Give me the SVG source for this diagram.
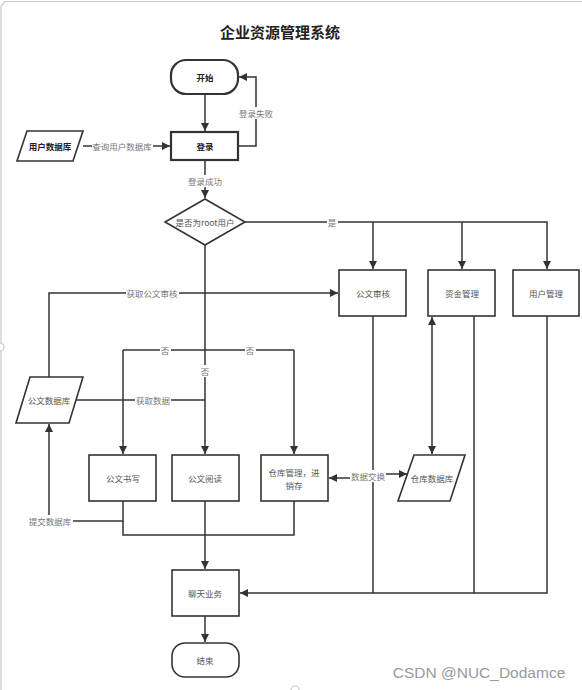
<svg xmlns="http://www.w3.org/2000/svg" width="582" height="690" viewBox="0 0 582 690">
<defs>
<marker id="arr" viewBox="0 0 10 10" refX="10" refY="5" markerWidth="8" markerHeight="8" markerUnits="userSpaceOnUse" orient="auto-start-reverse">
<path d="M0 0 L10 5 L0 10 Z" fill="#333"/>
</marker>
</defs>
<style>
.n{fill:#fff;stroke:#333;stroke-width:1.6}
.b{stroke-width:2.2}
.t{font-family:"Noto Sans CJK SC","Noto Sans",sans-serif;font-size:8.5px;fill:#555;text-anchor:middle;dominant-baseline:central}
.tb{font-weight:bold;fill:#222}
.c{fill:none;stroke:#333;stroke-width:1.5}
.lb{fill:#fff}
.l{font-family:"Noto Sans CJK SC","Noto Sans",sans-serif;font-size:8.5px;fill:#777;text-anchor:middle;dominant-baseline:central}
</style>
<rect width="582" height="690" fill="#fff"/>
<g id="frame" fill="none" stroke="#c8c8c8" stroke-width="1.2">
<path d="M1 690 V6 L5 1.5 H582"/>
<circle cx="0" cy="347" r="4" fill="#fff"/>
<circle cx="295" cy="690" r="4" fill="#fff"/>
</g>
<text x="280" y="31" font-family="&quot;Noto Sans CJK SC&quot;,sans-serif" font-size="15" font-weight="bold" fill="#222" text-anchor="middle" dominant-baseline="central">企业资源管理系统</text>

<g id="connectors">
<path class="c" d="M205 94 V131" marker-end="url(#arr)"/>
<path class="c" d="M238 146 H256 V77 H239" marker-end="url(#arr)"/>
<path class="c" d="M83 146 H170" marker-end="url(#arr)"/>
<path class="c" d="M205 160 V198" marker-end="url(#arr)"/>
<path class="c" d="M245 222 H547 V269" marker-end="url(#arr)"/>
<path class="c" d="M373 222 V269" marker-end="url(#arr)"/>
<path class="c" d="M462 222 V269" marker-end="url(#arr)"/>
<path class="c" d="M205 245 V454" marker-end="url(#arr)"/>
<path class="c" d="M123 350 H294"/>
<path class="c" d="M123 350 V454" marker-end="url(#arr)"/>
<path class="c" d="M294 350 V454" marker-end="url(#arr)"/>
<path class="c" d="M49 377 V293 H338" marker-end="url(#arr)"/>
<path class="c" d="M76 400 H205"/>
<path class="c" d="M123 501 V521 H49 V424" marker-end="url(#arr)"/>
<path class="c" d="M123 521 V535 H294 V501"/>
<path class="c" d="M205 501 V569" marker-end="url(#arr)"/>
<path class="c" d="M329 478 H360 V474 H407" stroke-width="1.8" marker-start="url(#arr)" marker-end="url(#arr)"/>
<path class="c" d="M432 317 V454" stroke-width="1.8" marker-start="url(#arr)" marker-end="url(#arr)"/>
<path class="c" d="M373 316 V593"/>
<path class="c" d="M474 316 V593"/>
<path class="c" d="M547 316 V593 H240" marker-end="url(#arr)"/>
<path class="c" d="M205 616 V642" marker-end="url(#arr)"/>
<rect class="lb" x="239" y="107" width="35" height="12"/>
<text class="l" x="256" y="113">登录失败</text>
<rect class="lb" x="92" y="140" width="61" height="12"/>
<text class="l" x="122" y="146">查询用户数据库</text>
<rect class="lb" x="187" y="175" width="36" height="12"/>
<text class="l" x="205" y="181">登录成功</text>
<rect class="lb" x="327" y="216" width="11" height="12"/>
<text class="l" x="332" y="222">是</text>
<rect class="lb" x="200" y="365" width="11" height="12"/>
<text class="l" x="205" y="371">否</text>
<rect class="lb" x="160" y="344" width="11" height="12"/>
<text class="l" x="165" y="350">否</text>
<rect class="lb" x="245" y="344" width="11" height="12"/>
<text class="l" x="250" y="350">否</text>
<rect class="lb" x="126" y="287" width="53" height="12"/>
<text class="l" x="152" y="293">获取公文审核</text>
<rect class="lb" x="135" y="394" width="36" height="12"/>
<text class="l" x="153" y="400">获取数据</text>
<rect class="lb" x="28" y="515" width="45" height="12"/>
<text class="l" x="50" y="521">提交数据库</text>
<rect class="lb" x="350" y="470" width="36" height="12"/>
<text class="l" x="368" y="476">数据交换</text>
</g>

<g id="start"><rect class="n b" x="171" y="60" width="67" height="34" rx="15"/><text class="t tb" x="205" y="77">开始</text></g>
<g id="login"><rect class="n b" x="171" y="132" width="67" height="28"/><text class="t tb" x="205" y="146">登录</text></g>
<g id="userdb"><polygon class="n" points="27,131 83,131 73,161 17,161"/><text class="t tb" x="50" y="146">用户数据库</text></g>
<g id="isroot"><polygon class="n" points="205,199 245,222 205,245 165,222"/><text class="t" x="205" y="222">是否为root用户</text></g>
<g id="audit"><rect class="n" x="339" y="270" width="67" height="46"/><text class="t" x="373" y="293">公文审核</text></g>
<g id="finance"><rect class="n" x="428" y="270" width="67" height="46"/><text class="t" x="462" y="293">资金管理</text></g>
<g id="usermgr"><rect class="n" x="513" y="270" width="66" height="46"/><text class="t" x="546" y="293">用户管理</text></g>
<g id="docdb"><polygon class="n" points="30,377 83,377 69,423 16,423"/><text class="t" x="49" y="400">公文数据库</text></g>
<g id="docwrite"><rect class="n" x="89" y="455" width="67" height="46"/><text class="t" x="123" y="478">公文书写</text></g>
<g id="docread"><rect class="n" x="172" y="455" width="67" height="46"/><text class="t" x="205" y="478">公文阅读</text></g>
<g id="warehouse"><rect class="n" x="261" y="455" width="67" height="46"/><text class="t" x="294" y="472">仓库管理，进</text><text class="t" x="294" y="485">销存</text></g>
<g id="whdb"><polygon class="n" points="414,455 465,455 450,501 398,501"/><text class="t" x="432" y="478">仓库数据库</text></g>
<g id="chat"><rect class="n" x="172" y="570" width="67" height="46"/><text class="t" x="205" y="593">聊天业务</text></g>
<g id="end"><rect class="n" x="172" y="643" width="67" height="34" rx="13"/><text class="t" x="205" y="660">结束</text></g>
<text x="479" y="672" font-family="&quot;Liberation Sans&quot;,Arial,sans-serif" font-size="15.5" fill="#9a9a9a" text-anchor="middle" dominant-baseline="central">CSDN @NUC_Dodamce</text>
</svg>
